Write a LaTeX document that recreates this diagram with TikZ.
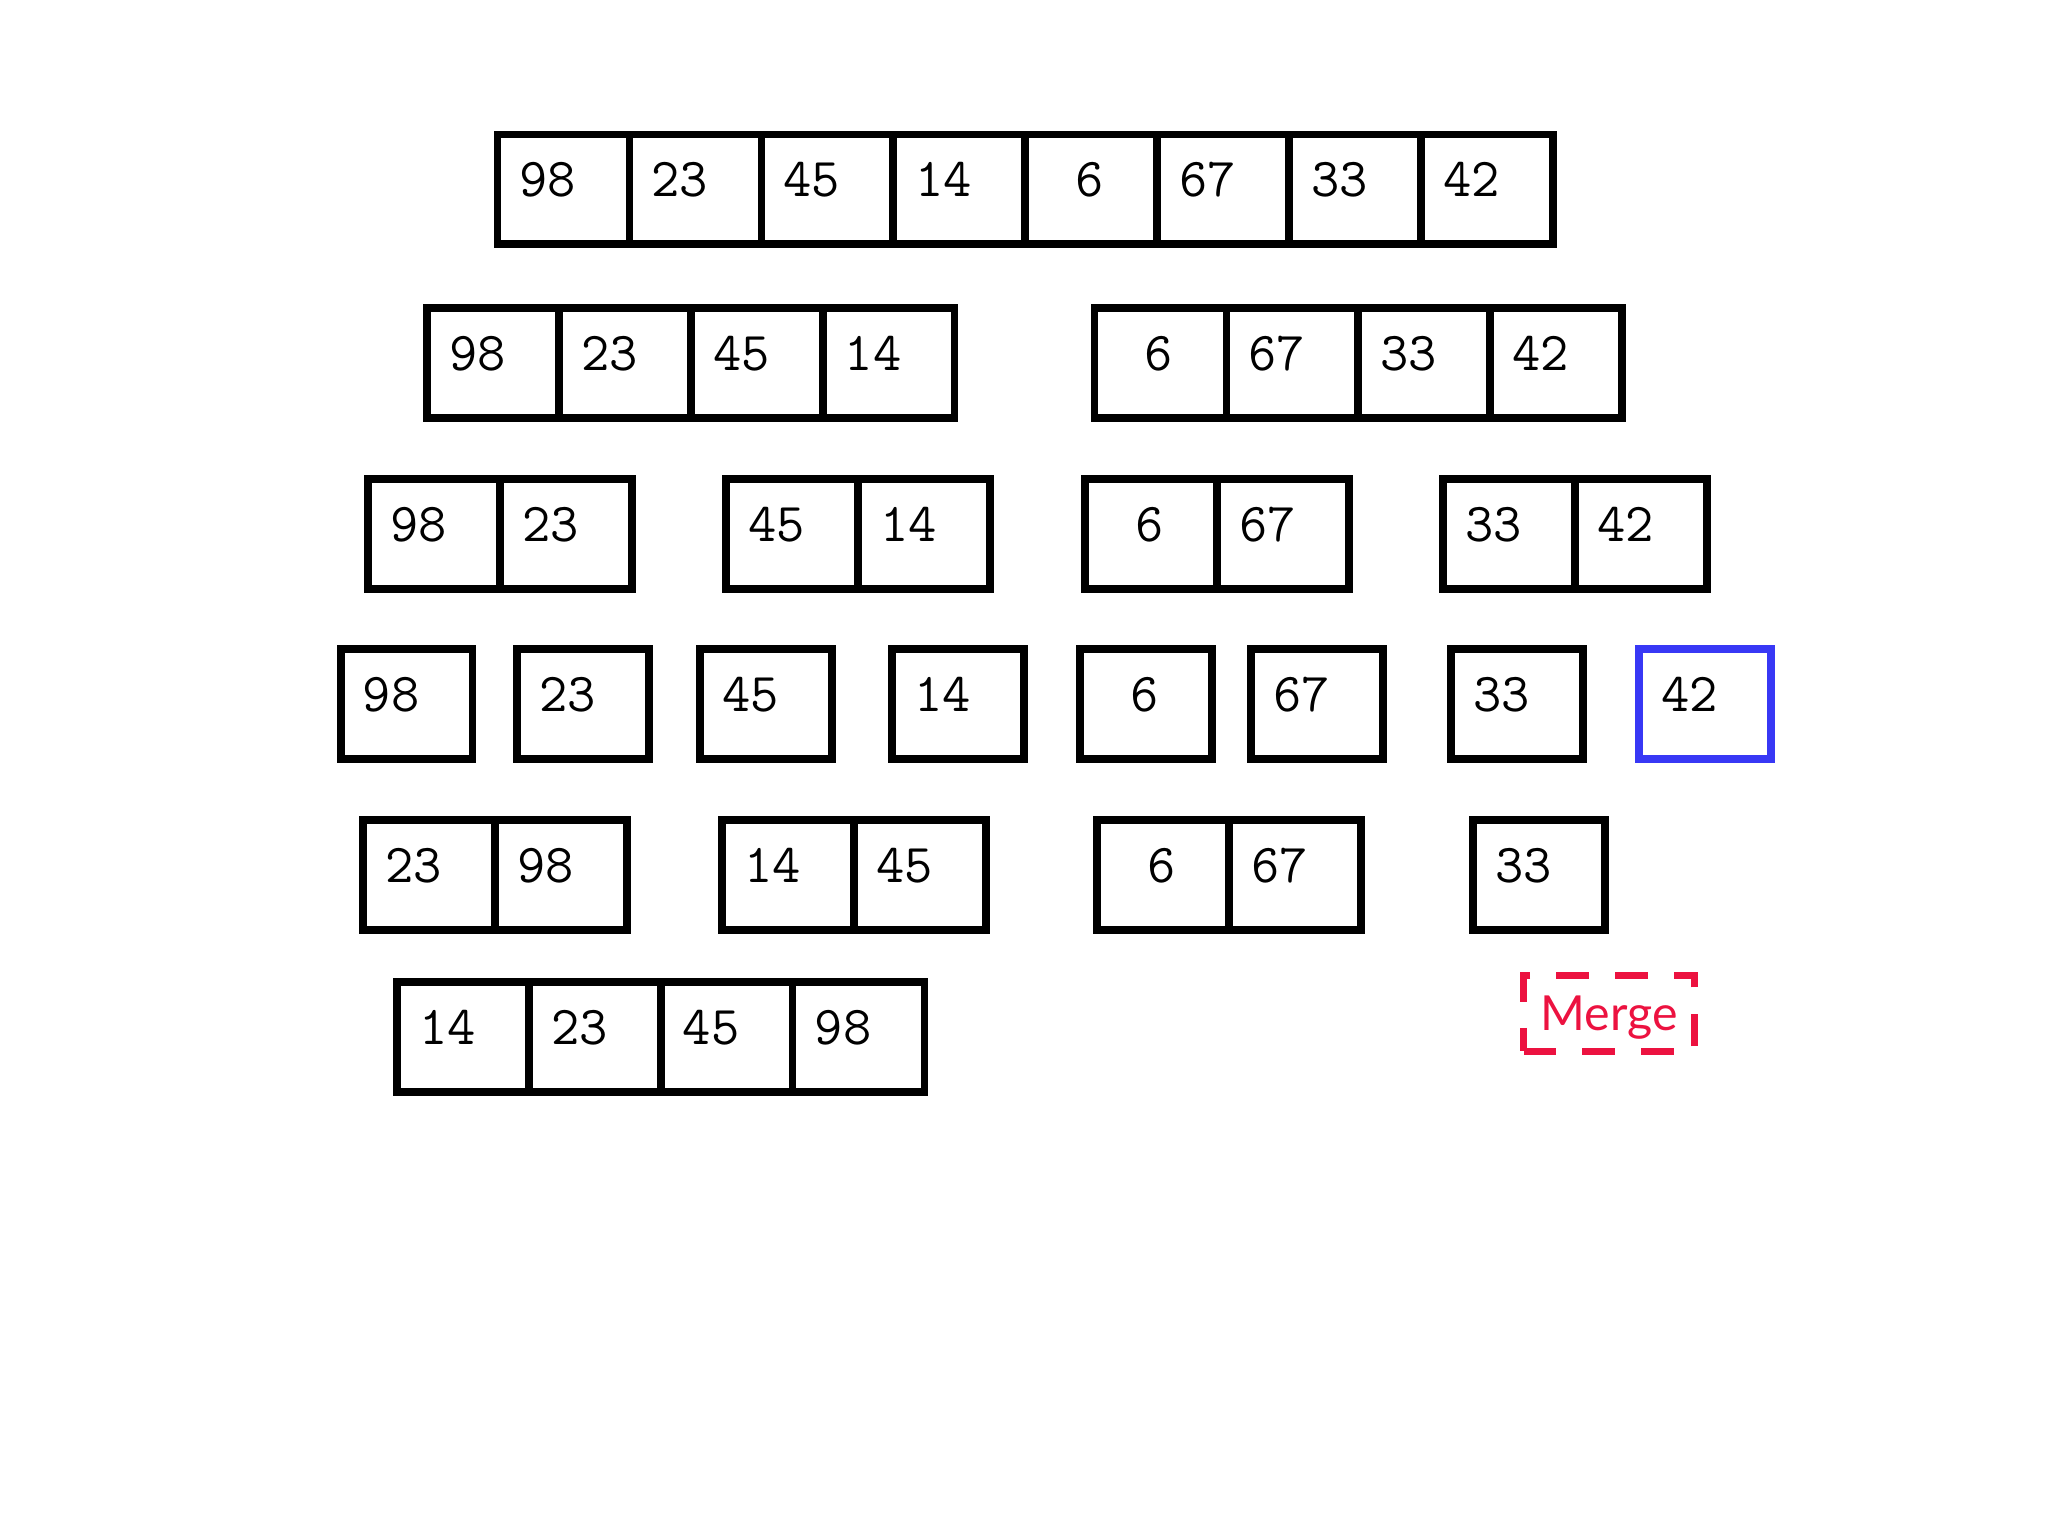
\documentclass[tikz,border=0pt]{standalone}
\usepackage{fontspec}
\newfontfamily\latofont{Lato}
\definecolor{mergered}{HTML}{EC1240}
\definecolor{cellblue}{HTML}{3838F5}
\tikzset{
  cell/.style={draw=black, line width=5.8pt, rectangle, anchor=north west,
    minimum width=101pt, minimum height=84pt, inner xsep=17pt, inner ysep=0pt,
    text width=67pt, align=left, text height=47.5pt, text depth=36.5pt,
    font=\fontsize{42}{42}\selectfont\ttfamily},
  bluecell/.style={cell, draw=cellblue},
  mergebox/.style={draw=mergered, line width=5.5pt, dash pattern=on 25pt off 20pt,
    rectangle, minimum width=131pt, minimum height=58pt, inner sep=0pt,
    text depth=0pt,
    text=mergered, font=\latofont\fontsize{37}{37}\selectfont}
}
\newcommand\cellgroup[4]{\foreach \v [count=\i] in {#4}{\node[cell] (#1-\i) at ({#2+(\i-1)*101},{#3}) {\v};}}
\begin{document}
\begin{tikzpicture}[x=1pt,y=-1pt]
\useasboundingbox (0,0) rectangle (1568,1176);
\begin{scope}[shift={(-2,-1)}]
% row 1
\cellgroup{a}{380}{101}{98,23,45,14,{\hphantom{0}6},67,33,42}
% row 2
\cellgroup{b}{326}{234}{98,23,45,14}
\cellgroup{c}{837}{234}{{\hphantom{0}6},67,33,42}
% row 3
\cellgroup{d}{281}{365}{98,23}
\cellgroup{e}{555}{365}{45,14}
\cellgroup{f}{830}{365}{{\hphantom{0}6},67}
\cellgroup{g}{1104}{365}{33,42}
% row 4
\cellgroup{h}{260}{495}{98}
\cellgroup{i}{395}{495}{23}
\cellgroup{j}{535}{495}{45}
\cellgroup{k}{682}{495}{14}
\cellgroup{l}{826}{495}{{\hphantom{0}6}}
\cellgroup{m}{957}{495}{67}
\cellgroup{n}{1110}{495}{33}
\node[bluecell] (o-1) at (1254,495) {42};
% row 5
\cellgroup{p}{277}{626}{23,98}
\cellgroup{q}{552}{626}{14,45}
\cellgroup{r}{839}{626}{{\hphantom{0}6},67}
\cellgroup{s}{1127}{626}{33}
% row 6
\cellgroup{t}{303}{750}{14,23,45,98}
% merge label
\node[mergebox] (merge) at (1234,777) {Merge};
\end{scope}
\end{tikzpicture}
\end{document}
